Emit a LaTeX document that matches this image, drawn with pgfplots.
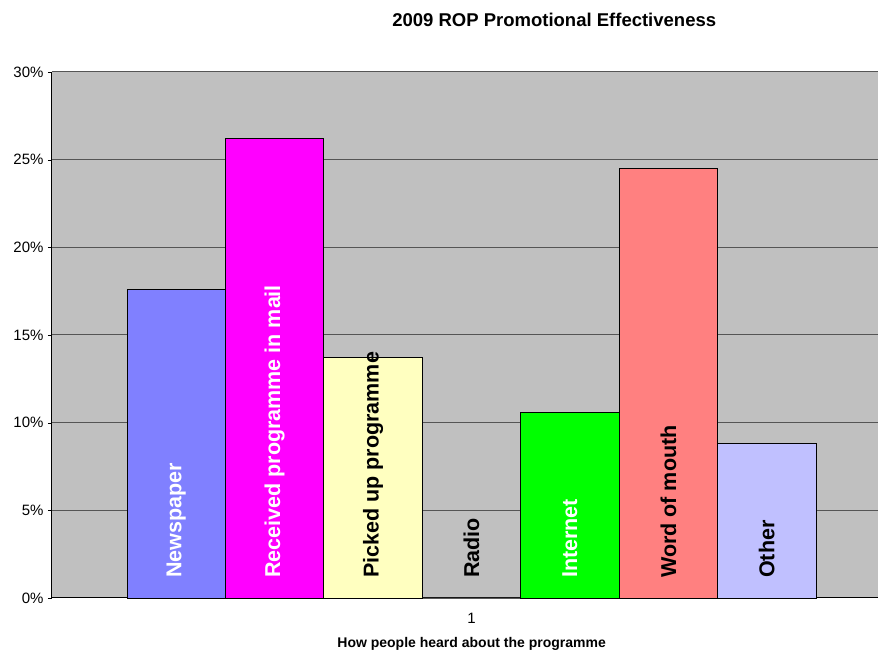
\documentclass[border=0pt]{standalone}
\usepackage{pgfplots}
\pgfplotsset{compat=1.18}
\usepackage{fontspec}
\setmainfont{Liberation Sans}

\definecolor{plotbg}{HTML}{C0C0C0}
\definecolor{gridc}{HTML}{555555}
\definecolor{cNews}{HTML}{8080FF}
\definecolor{cMail}{HTML}{FF00FF}
\definecolor{cPick}{HTML}{FFFFC0}
\definecolor{cRadio}{HTML}{C0C0C0}
\definecolor{cNet}{HTML}{00FF00}
\definecolor{cWord}{HTML}{FF8080}
\definecolor{cOther}{HTML}{C0C0FF}

\newcommand{\barlab}[3]{%
  \node[rotate=90, anchor=west, inner sep=0pt, text=#3,
        font=\fontsize{21.5}{24}\selectfont\bfseries]
    at (axis cs:#1,1.14) {#2};}

\begin{document}
\begin{tikzpicture}
\path[use as bounding box] (-52pt,-54pt) rectangle (826pt,598pt);
\begin{axis}[
    scale only axis,
    width=826pt, height=526pt,
    xmin=-1.262, xmax=7.13,
    ymin=0, ymax=30,
    axis background/.style={fill=plotbg},
    axis line style={black, line width=1pt},
    axis x line*=bottom,
    axis y line*=left,
    ytick={0,5,...,30},
    yticklabel={\pgfmathprintnumber{\tick}\%},
    xtick={3}, xticklabels={1},
    ymajorgrids,
    grid style={gridc, line width=1pt},
    tick style={black},
    tick align=outside,
    major tick length=4pt,
    x tick style={draw=none},
    ticklabel style={font=\fontsize{15}{18}\selectfont},
    /pgf/number format/assume math mode=true,
    yticklabel style={xshift=-1pt},
    xticklabel style={yshift=-8pt},
    ybar, bar width=1, bar shift=0pt,
    every axis plot/.append style={draw=black, line width=0.8pt},
    clip=false,
]
\addplot[fill=cNews]  coordinates {(0,17.6)};
\addplot[fill=cMail]  coordinates {(1,26.2)};
\addplot[fill=cPick]  coordinates {(2,13.7)};
\addplot[fill=cRadio] coordinates {(3,0)};
\addplot[fill=cNet]   coordinates {(4,10.6)};
\addplot[fill=cWord]  coordinates {(5,24.5)};
\addplot[fill=cOther] coordinates {(6,8.8)};
\draw[gridc, line width=1pt] (rel axis cs:0,1) -- (rel axis cs:1,1);

\barlab{0}{Newspaper}{white}
\barlab{1}{Received programme in mail}{white}
\barlab{2}{Picked up programme}{black}
\barlab{3}{Radio}{black}
\barlab{4}{Internet}{white}
\barlab{5}{Word of mouth}{black}
\barlab{6}{Other}{black}

\node[font=\fontsize{18.5}{22}\selectfont\bfseries]
  at (axis description cs:0.608,1.099) {2009 ROP Promotional Effectiveness};
\node[font=\fontsize{14}{17}\selectfont\bfseries]
  at (axis description cs:0.508,-0.0875) {How people heard about the programme};
\end{axis}
\end{tikzpicture}
\end{document}
